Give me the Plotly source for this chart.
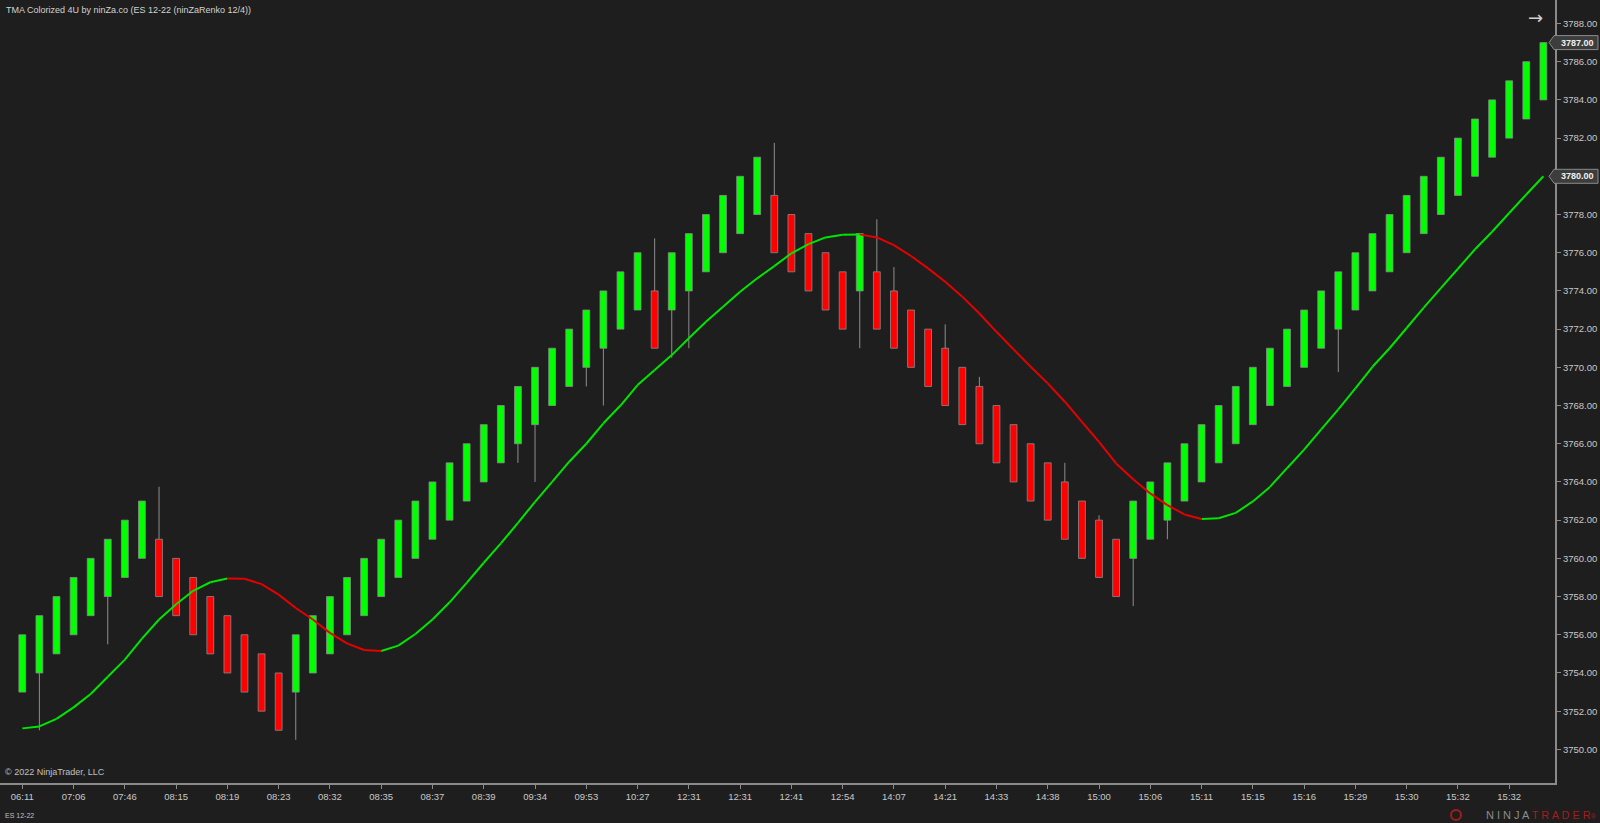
import plotly.graph_objects as go

# ---------------- data ----------------
time_labels = ["06:11", "07:06", "07:46", "08:15", "08:19", "08:23", "08:32", "08:35", "08:37", "08:39",
               "09:34", "09:53", "10:27", "12:31", "12:31", "12:41", "12:54", "14:07", "14:21", "14:33",
               "14:38", "15:00", "15:06", "15:11", "15:15", "15:16", "15:29", "15:30", "15:32", "15:32"]
label_step = 3

opens = [3753, 3754, 3755, 3756, 3757, 3758, 3759, 3760,
         3761, 3760, 3759, 3758, 3757, 3756, 3755, 3754,
         3753, 3754, 3755, 3756, 3757, 3758, 3759, 3760, 3761, 3762, 3763, 3764, 3765, 3766, 3767,
         3768, 3769, 3770, 3771, 3772, 3773,
         3774,
         3773, 3774, 3775, 3776, 3777, 3778,
         3779, 3778, 3777, 3776, 3775,
         3774,
         3775, 3774, 3773, 3772, 3771, 3770, 3769, 3768, 3767, 3766, 3765, 3764, 3763, 3762, 3761,
         3760, 3761, 3762, 3763, 3764, 3765, 3766, 3767, 3768, 3769, 3770, 3771, 3772, 3773, 3774,
         3775, 3776, 3777, 3778, 3779, 3780, 3781, 3782, 3783, 3784]

closes = [3756, 3757, 3758, 3759, 3760, 3761, 3762, 3763,
          3758, 3757, 3756, 3755, 3754, 3753, 3752, 3751,
          3756, 3757, 3758, 3759, 3760, 3761, 3762, 3763, 3764, 3765, 3766, 3767, 3768, 3769, 3770,
          3771, 3772, 3773, 3774, 3775, 3776,
          3771,
          3776, 3777, 3778, 3779, 3780, 3781,
          3776, 3775, 3774, 3773, 3772,
          3777,
          3772, 3771, 3770, 3769, 3768, 3767, 3766, 3765, 3764, 3763, 3762, 3761, 3760, 3759, 3758,
          3763, 3764, 3765, 3766, 3767, 3768, 3769, 3770, 3771, 3772, 3773, 3774, 3775, 3776, 3777,
          3778, 3779, 3780, 3781, 3782, 3783, 3784, 3785, 3786, 3787]

highs = [3756, 3757, 3758, 3759, 3760, 3761, 3762, 3763,
         3763.75, 3760, 3759, 3758, 3757, 3756, 3755, 3754,
         3756, 3757, 3758, 3759, 3760, 3761, 3762, 3763, 3764, 3765, 3766, 3767, 3768, 3769, 3770,
         3771, 3772, 3773, 3774, 3775, 3776,
         3776.75,
         3776, 3777, 3778, 3779, 3780, 3781,
         3781.75, 3778, 3777, 3776, 3775,
         3777,
         3777.75, 3775.25, 3773, 3772, 3772.25, 3770, 3769.5, 3768, 3767, 3766, 3765, 3765, 3763, 3762.25, 3761,
         3763, 3764, 3765, 3766, 3767, 3768, 3769, 3770, 3771, 3772, 3773, 3774, 3775, 3776, 3777,
         3778, 3779, 3780, 3781, 3782, 3783, 3784, 3785, 3786, 3787]

lows = [3753, 3751, 3755, 3756, 3757, 3755.5, 3759, 3760,
        3758, 3757, 3756, 3755, 3754, 3753, 3752, 3751,
        3750.5, 3754, 3755, 3756, 3757, 3758, 3759, 3760, 3761, 3762, 3763, 3764, 3765, 3765, 3764,
        3768, 3769, 3769, 3768, 3772, 3773,
        3771,
        3770.5, 3771, 3775, 3776, 3777, 3778,
        3776, 3775, 3774, 3773, 3772,
        3771,
        3772, 3771, 3770, 3769, 3768, 3767, 3766, 3765, 3764, 3763, 3762, 3761, 3760, 3759, 3758,
        3757.5, 3761, 3761, 3763, 3764, 3765, 3766, 3767, 3768, 3769, 3770, 3771, 3769.75, 3773, 3774,
        3775, 3776, 3777, 3778, 3779, 3780, 3781, 3782, 3783, 3784]

tma = [3751.1, 3751.2, 3751.6, 3752.2, 3752.9, 3753.8, 3754.7, 3755.8, 3756.8, 3757.6,
       3758.3, 3758.75, 3758.95, 3758.93, 3758.65, 3758.1, 3757.4, 3756.8, 3756.1, 3755.55,
       3755.2, 3755.15, 3755.43, 3756.04, 3756.8, 3757.7, 3758.72, 3759.77, 3760.78, 3761.86,
       3762.96, 3764.0, 3765.06, 3766.0, 3767.07, 3768.0, 3769.07, 3769.86, 3770.64, 3771.52,
       3772.39, 3773.17, 3773.96, 3774.66, 3775.3, 3775.97, 3776.45, 3776.8, 3776.94, 3776.96,
       3776.8, 3776.4, 3775.83, 3775.18, 3774.48, 3773.7, 3772.82, 3771.86, 3770.94, 3770.03,
       3769.16, 3768.2, 3767.15, 3766.1, 3764.97, 3764.14, 3763.4, 3762.79, 3762.3, 3762.06,
       3762.1, 3762.38, 3762.98, 3763.74, 3764.72, 3765.69, 3766.75, 3767.8, 3768.9, 3770.03,
       3771.0, 3772.06, 3773.13, 3774.15, 3775.16, 3776.18, 3777.1, 3778.08, 3779.05, 3780.0]

n = len(opens)
assert len(closes) == n and len(highs) == n and len(lows) == n and len(tma) == n

# ---------------- styles ----------------
BG = "#1e1e1e"
UP = "#00ff00"
DN = "#ff0000"
LINE_UP = "#00e600"
LINE_DN = "#e60000"
OUTLINE = "#8c8c8c"
WICK = "#8e8e8e"
AXIS = "#8a8a8a"
TXT = "#c8c8c8"
FONT = "Liberation Sans, Arial, sans-serif"

idx = list(range(n))

fig = go.Figure()

# wicks: only the parts outside the body (bars are drawn beneath scatter traces)
wx, wy = [], []
for i in idx:
    top = max(opens[i], closes[i])
    bot = min(opens[i], closes[i])
    if highs[i] > top:
        wx += [i, i, None]
        wy += [top, highs[i], None]
    if lows[i] < bot:
        wx += [i, i, None]
        wy += [lows[i], bot, None]
fig.add_trace(go.Scatter(x=wx, y=wy, mode="lines", line=dict(color=WICK, width=1),
                         hoverinfo="skip", showlegend=False))

# bodies
bases = [min(o, c) for o, c in zip(opens, closes)]
heights = [abs(c - o) for o, c in zip(opens, closes)]
colors = [UP if c > o else DN for o, c in zip(opens, closes)]
fig.add_trace(go.Bar(x=idx, y=heights, base=bases, width=0.4,
                     marker=dict(color=colors, opacity=1, line=dict(color=OUTLINE, width=0.8)),
                     hoverinfo="skip", showlegend=False))

# TMA line colored by direction
gx, gy, rx, ry = [], [], [], []
for i in range(1, n):
    if tma[i] > tma[i - 1]:
        gx += [i - 1, i, None]
        gy += [tma[i - 1], tma[i], None]
    else:
        rx += [i - 1, i, None]
        ry += [tma[i - 1], tma[i], None]
fig.add_trace(go.Scatter(x=gx, y=gy, mode="lines", line=dict(color=LINE_UP, width=2),
                         hoverinfo="skip", showlegend=False, connectgaps=False))
fig.add_trace(go.Scatter(x=rx, y=ry, mode="lines", line=dict(color=LINE_DN, width=2),
                         hoverinfo="skip", showlegend=False, connectgaps=False))

tickvals = [i * label_step for i in range(len(time_labels))]
y_ticks = list(range(3750, 3790, 2))
marker_values = [closes[-1], tma[-1]]
# tick labels hidden behind the price markers are left blank
y_ticktext = ["" if any(abs(v - m) < 0.6 for m in marker_values) else f"{v:.2f}" for v in y_ticks]

fig.update_layout(
    width=1600, height=823,
    paper_bgcolor=BG, plot_bgcolor=BG,
    margin=dict(l=0, r=45, t=0, b=40),
    barmode="overlay",
    showlegend=False,
    font=dict(family=FONT, size=9, color=TXT),
    xaxis=dict(range=[-1.305, 89.68], tickvals=tickvals, ticktext=time_labels,
               showgrid=False, zeroline=False, showline=True, linecolor=AXIS, linewidth=2,
               ticks="outside", ticklen=4, tickcolor=AXIS, tickwidth=1,
               tickfont=dict(family=FONT, size=9.5, color=TXT), fixedrange=True),
    yaxis=dict(range=[3748.24, 3789.23], side="right", tickvals=y_ticks,
               ticktext=y_ticktext,
               showgrid=False, zeroline=False, showline=True, linecolor=AXIS, linewidth=2,
               ticks="outside", ticklen=4, tickcolor=AXIS, tickwidth=1,
               tickfont=dict(family=FONT, size=9.5, color=TXT), fixedrange=True),
)

# price markers on the axis
def price_marker(value):
    fig.add_shape(type="path", xref="paper", yref="y", xsizemode="pixel", ysizemode="pixel",
                  xanchor=1, yanchor=value,
                  path="M -6,0 L -1,7 L 43,7 L 43,-7 L -1,-7 Z",
                  fillcolor="#3d3d3d", line=dict(color="#8a8a8a", width=1), layer="above")
    fig.add_annotation(xref="paper", yref="y", x=1, y=value, xanchor="center", yanchor="middle",
                       xshift=22, showarrow=False,
                       text=f"<b>{value:.2f}</b>", font=dict(family=FONT, size=9, color="#f0f0f0"))

for mv in marker_values:
    price_marker(mv)

# texts
fig.add_annotation(xref="paper", yref="paper", x=0, y=1, xanchor="left", yanchor="top",
                   xshift=4, yshift=-3, showarrow=False,
                   text="TMA Colorized 4U by ninZa.co (ES 12-22 (ninZaRenko 12/4))",
                   font=dict(family=FONT, size=9, color="#d2d2d2"))
fig.add_annotation(xref="paper", yref="paper", x=0, y=0, xanchor="left", yanchor="bottom",
                   xshift=3, yshift=4, showarrow=False, text="© 2022 NinjaTrader, LLC",
                   font=dict(family=FONT, size=9, color="#c0c0c0"))
fig.add_annotation(xref="paper", yref="paper", x=0, y=0, xanchor="left", yanchor="middle",
                   xshift=3, yshift=-32, showarrow=False, text="ES 12-22",
                   font=dict(family=FONT, size=7, color="#c0c0c0"))
fig.add_annotation(xref="paper", yref="paper", x=1, y=1, xanchor="center", yanchor="middle",
                   xshift=-20, yshift=-17, showarrow=False, text="→",
                   font=dict(family="DejaVu Sans", size=18, color="#d0d0d0"))
fig.add_annotation(xref="paper", yref="paper", x=1, y=0, xanchor="right", yanchor="middle",
                   xshift=44, yshift=-32, showarrow=False,
                   text="<span style='color:#8c8c8c'>N I N J A </span><span style='color:#a31d1d'>T R A D E R</span><span style='color:#a31d1d;font-size:7px'>®</span>",
                   font=dict(family=FONT, size=11))
fig.add_shape(type="circle", xref="paper", yref="paper", xsizemode="pixel", ysizemode="pixel",
              xanchor=1, yanchor=0, x0=-104, x1=-94, y0=-37, y1=-27,
              line=dict(color="#a31d1d", width=2), fillcolor="rgba(0,0,0,0)")

fig.write_html("out.html", config={"displayModeBar": False},
               post_script="document.body.style.margin='0';document.body.style.overflow='hidden';")
